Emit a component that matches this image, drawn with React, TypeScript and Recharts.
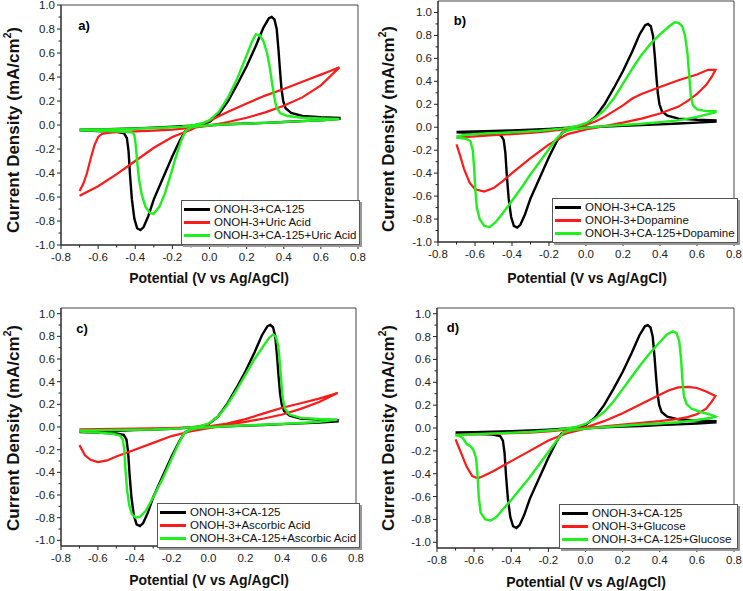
import { LineChart, Line, XAxis, YAxis, ReferenceArea } from 'recharts';

type Pt = [number, number];

// ONOH-3+CA-125 (same reference loop in all four panels)
const cvCA125: Pt[] = [
  [-0.70, -0.040], [-0.60, -0.037], [-0.50, -0.033], [-0.40, -0.028], [-0.30, -0.022], [-0.20, -0.015],
  [-0.10, -0.005], [-0.05, 0.005], [0.00, 0.025], [0.05, 0.09], [0.10, 0.20], [0.15, 0.34], [0.20, 0.49],
  [0.25, 0.66], [0.29, 0.81], [0.32, 0.89], [0.335, 0.90], [0.35, 0.88], [0.362, 0.80], [0.372, 0.62],
  [0.38, 0.45], [0.388, 0.30], [0.397, 0.20], [0.41, 0.14], [0.44, 0.10], [0.50, 0.075], [0.60, 0.065],
  [0.70, 0.060], [0.70, 0.050], [0.60, 0.040], [0.50, 0.032], [0.40, 0.025], [0.30, 0.018], [0.20, 0.012],
  [0.10, 0.006], [0.00, -0.002], [-0.06, -0.01], [-0.10, -0.025], [-0.13, -0.05], [-0.16, -0.13],
  [-0.20, -0.26], [-0.25, -0.44], [-0.30, -0.62], [-0.33, -0.76], [-0.355, -0.85], [-0.372, -0.875],
  [-0.39, -0.86], [-0.405, -0.78], [-0.418, -0.62], [-0.428, -0.42], [-0.436, -0.22], [-0.445, -0.11],
  [-0.46, -0.07], [-0.50, -0.057], [-0.60, -0.050], [-0.70, -0.045],
];

// a) uric acid
const cvUric: Pt[] = [
  [-0.70, -0.55], [-0.68, -0.49], [-0.66, -0.40], [-0.64, -0.28], [-0.62, -0.17], [-0.60, -0.10],
  [-0.58, -0.075], [-0.55, -0.065], [-0.50, -0.06], [-0.40, -0.053], [-0.30, -0.047], [-0.20, -0.038],
  [-0.10, -0.025], [0.00, -0.005], [0.10, 0.025], [0.20, 0.06], [0.30, 0.105], [0.40, 0.16], [0.50, 0.23],
  [0.60, 0.33], [0.70, 0.48], [0.65, 0.45], [0.60, 0.42], [0.50, 0.36], [0.40, 0.30], [0.30, 0.245],
  [0.20, 0.18], [0.10, 0.11], [0.00, 0.035], [-0.10, -0.04], [-0.20, -0.10], [-0.30, -0.19], [-0.40, -0.30],
  [-0.50, -0.41], [-0.60, -0.51], [-0.70, -0.59],
];
const cvCA125Uric: Pt[] = [
  [-0.70, -0.040], [-0.50, -0.035], [-0.30, -0.025], [-0.15, -0.015], [-0.08, 0.0], [-0.03, 0.02],
  [0.00, 0.04], [0.05, 0.11], [0.10, 0.23], [0.15, 0.39], [0.20, 0.58], [0.23, 0.70], [0.25, 0.755],
  [0.27, 0.75], [0.29, 0.70], [0.31, 0.60], [0.325, 0.48], [0.337, 0.35], [0.348, 0.24], [0.36, 0.15],
  [0.38, 0.10], [0.42, 0.075], [0.50, 0.06], [0.60, 0.055], [0.70, 0.050], [0.60, 0.040], [0.50, 0.032],
  [0.30, 0.018], [0.10, 0.006], [0.00, -0.002], [-0.06, -0.01], [-0.10, -0.02], [-0.13, -0.05],
  [-0.15, -0.12], [-0.18, -0.26], [-0.21, -0.42], [-0.24, -0.57], [-0.27, -0.68], [-0.30, -0.74],
  [-0.32, -0.735], [-0.345, -0.68], [-0.365, -0.58], [-0.38, -0.45], [-0.39, -0.30], [-0.398, -0.16],
  [-0.405, -0.08], [-0.42, -0.06], [-0.50, -0.052], [-0.60, -0.048], [-0.70, -0.045],
];

// b) dopamine
const cvDopamine: Pt[] = [
  [-0.70, -0.09], [-0.60, -0.08], [-0.50, -0.07], [-0.40, -0.06], [-0.30, -0.05], [-0.20, -0.035],
  [-0.10, -0.015], [0.00, 0.02], [0.05, 0.05], [0.10, 0.09], [0.15, 0.14], [0.20, 0.19], [0.25, 0.25],
  [0.30, 0.29], [0.35, 0.32], [0.40, 0.35], [0.50, 0.41], [0.60, 0.46], [0.66, 0.50], [0.70, 0.50],
  [0.68, 0.44], [0.65, 0.37], [0.60, 0.29], [0.55, 0.23], [0.50, 0.18], [0.40, 0.12], [0.30, 0.075],
  [0.20, 0.04], [0.10, 0.01], [0.00, -0.02], [-0.10, -0.06], [-0.20, -0.15], [-0.30, -0.27], [-0.40, -0.40],
  [-0.45, -0.47], [-0.50, -0.53], [-0.55, -0.56], [-0.60, -0.54], [-0.63, -0.48], [-0.66, -0.36],
  [-0.68, -0.25], [-0.70, -0.15],
];
const cvCA125Dopamine: Pt[] = [
  [-0.70, -0.080], [-0.65, -0.065], [-0.55, -0.055], [-0.40, -0.045], [-0.25, -0.03], [-0.12, -0.01],
  [-0.05, 0.01], [0.00, 0.035], [0.05, 0.08], [0.10, 0.15], [0.15, 0.25], [0.20, 0.38], [0.25, 0.51],
  [0.30, 0.63], [0.35, 0.73], [0.40, 0.81], [0.45, 0.88], [0.48, 0.915], [0.50, 0.91], [0.52, 0.88],
  [0.535, 0.80], [0.548, 0.65], [0.558, 0.45], [0.566, 0.28], [0.578, 0.19], [0.60, 0.155], [0.65, 0.14],
  [0.70, 0.14], [0.70, 0.13], [0.60, 0.09], [0.50, 0.06], [0.40, 0.045], [0.30, 0.03], [0.20, 0.02],
  [0.10, 0.01], [0.00, -0.005], [-0.08, -0.02], [-0.12, -0.04], [-0.16, -0.10], [-0.20, -0.19],
  [-0.25, -0.30], [-0.30, -0.41], [-0.35, -0.53], [-0.40, -0.64], [-0.45, -0.75], [-0.49, -0.83],
  [-0.52, -0.87], [-0.55, -0.86], [-0.575, -0.80], [-0.59, -0.70], [-0.598, -0.55], [-0.605, -0.35],
  [-0.612, -0.20], [-0.625, -0.12], [-0.65, -0.10], [-0.70, -0.09],
];

// c) ascorbic acid
const cvAscorbic: Pt[] = [
  [-0.70, -0.02], [-0.50, -0.017], [-0.30, -0.012], [-0.10, -0.005], [0.00, 0.005], [0.10, 0.03],
  [0.20, 0.07], [0.30, 0.12], [0.40, 0.17], [0.50, 0.21], [0.60, 0.25], [0.70, 0.30], [0.65, 0.26],
  [0.60, 0.22], [0.50, 0.16], [0.40, 0.11], [0.30, 0.075], [0.20, 0.045], [0.10, 0.02], [0.00, -0.01],
  [-0.10, -0.04], [-0.20, -0.08], [-0.30, -0.14], [-0.40, -0.20], [-0.50, -0.26], [-0.55, -0.295],
  [-0.60, -0.31], [-0.64, -0.29], [-0.67, -0.25], [-0.70, -0.16],
];
const cvCA125Ascorbic: Pt[] = [
  [-0.70, -0.030], [-0.50, -0.027], [-0.30, -0.022], [-0.15, -0.012], [-0.05, 0.005], [0.00, 0.03],
  [0.05, 0.09], [0.10, 0.19], [0.15, 0.32], [0.20, 0.46], [0.25, 0.60], [0.30, 0.72], [0.33, 0.79],
  [0.35, 0.815], [0.365, 0.80], [0.378, 0.72], [0.388, 0.55], [0.396, 0.38], [0.403, 0.25], [0.415, 0.16],
  [0.44, 0.11], [0.50, 0.08], [0.60, 0.07], [0.70, 0.065], [0.60, 0.045], [0.50, 0.035], [0.30, 0.02],
  [0.10, 0.006], [0.00, -0.002], [-0.06, -0.01], [-0.10, -0.025], [-0.13, -0.05], [-0.16, -0.14],
  [-0.20, -0.28], [-0.25, -0.46], [-0.30, -0.62], [-0.34, -0.74], [-0.37, -0.79], [-0.395, -0.80],
  [-0.415, -0.77], [-0.43, -0.69], [-0.442, -0.55], [-0.45, -0.38], [-0.457, -0.20], [-0.465, -0.11],
  [-0.48, -0.075], [-0.52, -0.06], [-0.60, -0.05], [-0.70, -0.04],
];

// d) glucose
const cvGlucose: Pt[] = [
  [-0.70, -0.06], [-0.60, -0.055], [-0.50, -0.05], [-0.40, -0.045], [-0.30, -0.04], [-0.20, -0.03],
  [-0.10, -0.015], [0.00, 0.005], [0.10, 0.06], [0.20, 0.13], [0.30, 0.21], [0.40, 0.29], [0.45, 0.33],
  [0.50, 0.355], [0.55, 0.36], [0.60, 0.35], [0.65, 0.32], [0.70, 0.28], [0.68, 0.23], [0.65, 0.17],
  [0.60, 0.12], [0.55, 0.095], [0.50, 0.08], [0.40, 0.06], [0.30, 0.045], [0.20, 0.03], [0.10, 0.015],
  [0.00, -0.005], [-0.10, -0.045], [-0.20, -0.11], [-0.30, -0.20], [-0.40, -0.29], [-0.50, -0.38],
  [-0.55, -0.42], [-0.58, -0.44], [-0.61, -0.42], [-0.64, -0.34], [-0.67, -0.22], [-0.69, -0.14],
  [-0.70, -0.10],
];
const cvCA125Glucose: Pt[] = [
  [-0.70, -0.060], [-0.60, -0.055], [-0.45, -0.045], [-0.30, -0.035], [-0.15, -0.015], [-0.05, 0.01],
  [0.00, 0.035], [0.05, 0.08], [0.10, 0.14], [0.15, 0.23], [0.20, 0.34], [0.25, 0.45], [0.30, 0.56],
  [0.35, 0.66], [0.40, 0.75], [0.44, 0.82], [0.47, 0.845], [0.49, 0.83], [0.505, 0.76], [0.515, 0.60],
  [0.522, 0.42], [0.53, 0.28], [0.545, 0.21], [0.57, 0.17], [0.62, 0.14], [0.67, 0.12], [0.70, 0.10],
  [0.68, 0.09], [0.60, 0.07], [0.50, 0.05], [0.40, 0.04], [0.30, 0.03], [0.20, 0.02], [0.10, 0.008],
  [0.00, -0.005], [-0.08, -0.02], [-0.12, -0.04], [-0.16, -0.12], [-0.20, -0.21], [-0.25, -0.32],
  [-0.30, -0.43], [-0.35, -0.53], [-0.40, -0.63], [-0.45, -0.72], [-0.48, -0.78], [-0.51, -0.81],
  [-0.54, -0.80], [-0.565, -0.74], [-0.575, -0.60], [-0.582, -0.40], [-0.59, -0.26], [-0.605, -0.19],
  [-0.62, -0.16], [-0.64, -0.14], [-0.66, -0.09], [-0.68, -0.07], [-0.70, -0.065],
];

const xTicks = [-0.8, -0.7, -0.6, -0.5, -0.4, -0.3, -0.2, -0.1, 0, 0.1, 0.2, 0.3, 0.4, 0.5, 0.6, 0.7, 0.8];
const yTicks = [-1.0, -0.9, -0.8, -0.7, -0.6, -0.5, -0.4, -0.3, -0.2, -0.1, 0, 0.1, 0.2, 0.3, 0.4, 0.5, 0.6, 0.7, 0.8, 0.9, 1.0];

const BLACK = '#000000';
const RED = '#ff1a1a';
const GREEN = '#1ef01e';
const FONT = '"Liberation Sans", Arial, Helvetica, sans-serif';
const AXIS = '#222';

const toRows = (pts: Pt[]) => pts.map(([x, y]) => ({ x, y }));
const isMajor = (v: number) => Math.round(v * 10) % 2 === 0;

function YTick({ x, y, payload }: any) {
  const v = payload.value as number;
  const major = isMajor(v);
  return (
    <g>
      <line x1={x} x2={x - (major ? 4 : 2.5)} y1={y} y2={y} stroke={AXIS} strokeWidth={1} />
      {major && (
        <text x={x - 6} y={y} dy={4} textAnchor="end" fontSize={11.5} fontFamily={FONT} fill="#222">
          {v.toFixed(1)}
        </text>
      )}
    </g>
  );
}

function XTick({ x, y, payload }: any) {
  const v = payload.value as number;
  const major = isMajor(v);
  return (
    <g>
      <line x1={x} x2={x} y1={y} y2={y + (major ? 4 : 2.5)} stroke={AXIS} strokeWidth={1} />
      {major && (
        <text x={x} y={y + 16} textAnchor="middle" fontSize={11.5} fontFamily={FONT} fill="#222">
          {v.toFixed(1)}
        </text>
      )}
    </g>
  );
}

interface PanelProps {
  left: number;
  top: number;
  width: number;
  height: number;
  mTop: number;
  mRight: number;
  yW: number;
  xH: number;
  yDomain: [number, number];
  tag: string;
  tagPos: [number, number];
  red: Pt[];
  green: Pt[];
  names: string[];
  legend: { left: number; top: number; width: number };
  xTitle: [number, number];
  yTitle: [number, number];
}

function Panel(p: PanelProps) {
  return (
    <>
      <div style={{ position: 'absolute', left: p.left, top: p.top }}>
        <LineChart
          width={p.width}
          height={p.height}
          margin={{ top: p.mTop, right: p.mRight, left: 0, bottom: 0 }}
        >
          <XAxis
            type="number"
            dataKey="x"
            domain={[-0.8, 0.8]}
            ticks={xTicks}
            interval={0}
            height={p.xH}
            tickSize={0}
            tickMargin={0}
            tickLine={false}
            tick={<XTick />}
            axisLine={{ stroke: AXIS }}
            allowDataOverflow
          />
          <YAxis
            type="number"
            dataKey="y"
            domain={p.yDomain}
            ticks={yTicks}
            interval={0}
            width={p.yW}
            tickSize={0}
            tickMargin={0}
            tickLine={false}
            tick={<YTick />}
            axisLine={{ stroke: AXIS }}
            allowDataOverflow
          />
          <ReferenceArea
            x1={-0.8}
            x2={0.8}
            y1={p.yDomain[0]}
            y2={p.yDomain[1]}
            fill="none"
            fillOpacity={0}
            stroke="#444"
            strokeWidth={1}
          />
          <Line data={toRows(cvCA125)} dataKey="y" type="linear" stroke={BLACK} strokeWidth={2.4} dot={false} isAnimationActive={false} />
          <Line data={toRows(p.red)} dataKey="y" type="linear" stroke={RED} strokeWidth={2.2} dot={false} isAnimationActive={false} />
          <Line data={toRows(p.green)} dataKey="y" type="linear" stroke={GREEN} strokeWidth={2.4} dot={false} isAnimationActive={false} />
        </LineChart>
      </div>
      <div
        style={{
          position: 'absolute',
          left: p.tagPos[0],
          top: p.tagPos[1],
          transform: 'translate(-50%, -50%)',
          fontFamily: FONT,
          fontWeight: 'bold',
          fontSize: 13,
          lineHeight: 1,
        }}
      >
        {p.tag}
      </div>
      <div
        style={{
          position: 'absolute',
          left: p.legend.left,
          top: p.legend.top,
          width: p.legend.width,
          border: '1px solid #555',
          boxShadow: '2px 2px 0 #999',
          background: '#fff',
          padding: '2px 0 2px 2px',
          fontFamily: FONT,
          fontSize: 11.5,
          lineHeight: '13px',
          color: '#111',
        }}
      >
        {p.names.map((n, i) => (
          <div key={n} style={{ display: 'flex', alignItems: 'center', whiteSpace: 'nowrap' }}>
            <span
              style={{
                display: 'inline-block',
                width: 26,
                height: 3,
                background: [BLACK, RED, GREEN][i],
                marginRight: 4,
              }}
            />
            {n}
          </div>
        ))}
      </div>
      <div
        style={{
          position: 'absolute',
          left: p.xTitle[0],
          top: p.xTitle[1],
          transform: 'translate(-50%, -50%)',
          fontFamily: FONT,
          fontWeight: 'bold',
          fontSize: 14,
          lineHeight: 1,
          whiteSpace: 'nowrap',
          color: '#111',
        }}
      >
        Potential (V vs Ag/AgCl)
      </div>
      <div
        style={{
          position: 'absolute',
          left: p.yTitle[0],
          top: p.yTitle[1],
          transform: 'translate(-50%, -50%) rotate(-90deg)',
          fontFamily: FONT,
          fontWeight: 'bold',
          fontSize: 17,
          lineHeight: 1,
          whiteSpace: 'nowrap',
          color: '#111',
        }}
      >
        Current Density (mA/cm<sup style={{ fontSize: '0.6em', verticalAlign: '0.7em', lineHeight: 0 }}>2</sup>)
      </div>
    </>
  );
}

export default function App() {
  return (
    <div style={{ position: 'absolute', left: 0, top: 0, width: 743, height: 591, background: '#fff', overflow: 'hidden' }}>
      <Panel
        left={0} top={0} width={372} height={295} mTop={5} mRight={14} yW={61} xH={50}
        yDomain={[-1, 1]} tag="a)" tagPos={[84, 25]}
        red={cvUric} green={cvCA125Uric}
        names={['ONOH-3+CA-125', 'ONOH-3+Uric Acid', 'ONOH-3+CA-125+Uric Acid']}
        legend={{ left: 181, top: 200, width: 175 }}
        xTitle={[209, 278]} yTitle={[13, 130]}
      />
      <Panel
        left={372} top={0} width={371} height={295} mTop={1} mRight={9} yW={66} xH={53}
        yDomain={[-1, 1.1]} tag="b)" tagPos={[460, 20]}
        red={cvDopamine} green={cvCA125Dopamine}
        names={['ONOH-3+CA-125', 'ONOH-3+Dopamine', 'ONOH-3+CA-125+Dopamine']}
        legend={{ left: 552, top: 198, width: 182 }}
        xTitle={[587, 278]} yTitle={[388, 129]}
      />
      <Panel
        left={0} top={295} width={372} height={296} mTop={13} mRight={16} yW={61} xH={45}
        yDomain={[-1.05, 1.05]} tag="c)" tagPos={[82, 328]}
        red={cvAscorbic} green={cvCA125Ascorbic}
        names={['ONOH-3+CA-125', 'ONOH-3+Ascorbic Acid', 'ONOH-3+CA-125+Ascorbic Acid']}
        legend={{ left: 157, top: 503, width: 199 }}
        xTitle={[209, 580]} yTitle={[13, 428]}
      />
      <Panel
        left={372} top={295} width={371} height={296} mTop={13} mRight={9} yW={65} xH={43}
        yDomain={[-1.05, 1.05]} tag="d)" tagPos={[453, 327]}
        red={cvGlucose} green={cvCA125Glucose}
        names={['ONOH-3+CA-125', 'ONOH-3+Glucose', 'ONOH-3+CA-125+Glucose']}
        legend={{ left: 559, top: 504, width: 175 }}
        xTitle={[586, 582]} yTitle={[388, 428]}
      />
    </div>
  );
}
